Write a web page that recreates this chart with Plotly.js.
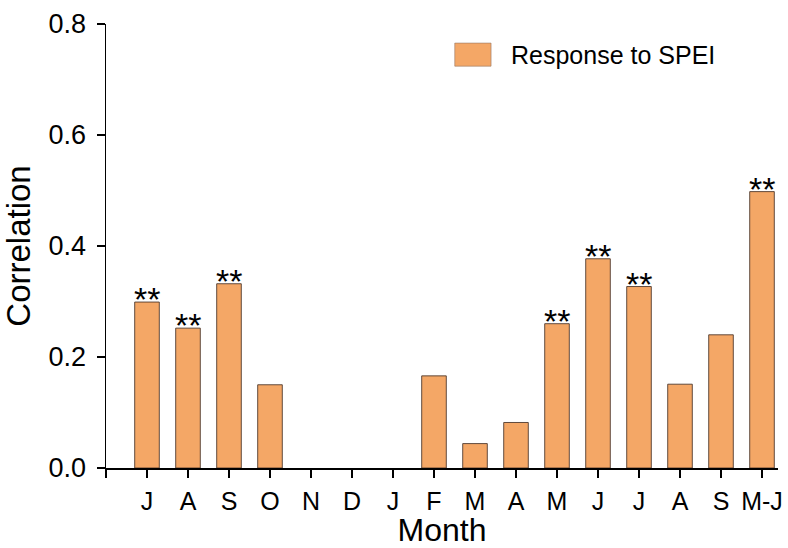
<!DOCTYPE html>
<html>
<head>
<meta charset="utf-8">
<script src="https://cdn.plot.ly/plotly-3.0.1.min.js"></script>
<style>html,body{margin:0;padding:0;background:#fff;}#chart{width:788px;height:548px;}</style>
</head>
<body>
<div id="chart"></div>
<script>
// ---- data ----
var months = ["J","A","S","O","N","D","J","F","M","A","M","J","J","A","S","M-J"];
// N, D, J have no bar in the reference
var correlation = [0.299, 0.252, 0.332, 0.150, null, null, null, 0.166, 0.044, 0.082, 0.260, 0.377, 0.327, 0.151, 0.240, 0.498];
var significant = [true, true, true, false, false, false, false, false, false, false, true, true, true, false, false, true];
var seriesName = "Response to SPEI";
var yTicks = [0, 0.2, 0.4, 0.6, 0.8];

// ---- styles ----
var barColor = "#F4A766";
var font = "'Liberation Sans', Arial, sans-serif";

var xIdx = months.map(function(m, i){ return i; });
var tickVals = [-1].concat(xIdx);
var tickText = [""].concat(months);

var trace = {
  type: "bar",
  x: xIdx,
  y: correlation,
  width: 0.6,
  name: seriesName,
  marker: {color: barColor, line: {color: "rgba(70,50,40,0.85)", width: 1}},
  hoverinfo: "y"
};

var annotations = [];
significant.forEach(function(s, i){
  if (s) annotations.push({
    x: xIdx[i], y: correlation[i], xref: "x", yref: "y",
    text: "**", showarrow: false, yanchor: "bottom", yshift: -18,
    font: {family: font, size: 34, color: "#000"}
  });
});
// legend entry
annotations.push({
  xref: "paper", yref: "paper", x: 0.600, y: 0.930, xanchor: "left", yanchor: "middle",
  text: seriesName, showarrow: false, font: {family: font, size: 25, color: "#000"}
});

var layout = {
  width: 788, height: 548,
  margin: {l: 106, r: 10, t: 24, b: 80},
  paper_bgcolor: "#fff", plot_bgcolor: "#fff",
  showlegend: false,
  font: {family: font, color: "#000"},
  xaxis: {
    range: [-1, 15.39], tickvals: tickVals, ticktext: tickText,
    ticks: "outside", ticklen: 8, tickwidth: 1.5, tickcolor: "#000",
    showline: true, linecolor: "#000", linewidth: 1.5,
    showgrid: false, zeroline: false,
    tickfont: {family: font, size: 25, color: "#000"},
    ticklabelstandoff: 2,
    title: {text: "Month", font: {family: font, size: 32, color: "#000"}, standoff: 8}
  },
  yaxis: {
    range: [0, 0.8], tickvals: yTicks, tickformat: ".1f",
    ticks: "outside", ticklen: 8, tickwidth: 1.5, tickcolor: "#000",
    showline: true, linecolor: "#000", linewidth: 1.5,
    showgrid: false, zeroline: false,
    tickfont: {family: font, size: 27, color: "#000"},
    ticklabelstandoff: 5,
    title: {text: "Correlation", font: {family: font, size: 33, color: "#000"}, standoff: 8}
  },
  shapes: [{
    type: "rect", xref: "paper", yref: "paper",
    x0: 0.519, x1: 0.573, y0: 0.905, y1: 0.957,
    fillcolor: barColor, line: {color: "rgba(150,120,100,0.6)", width: 1}
  }],
  annotations: annotations
};

Plotly.newPlot("chart", [trace], layout, {displayModeBar: false, staticPlot: true});
</script>
</body>
</html>
